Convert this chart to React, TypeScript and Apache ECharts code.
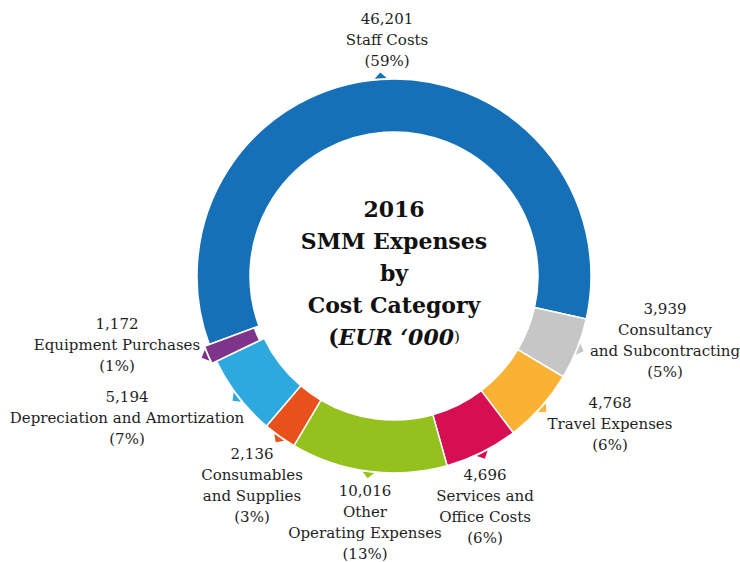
import React, { useEffect, useRef } from "react";
import * as echarts from "echarts";

const categories = [
  "Staff Costs",
  "Consultancy\nand Subcontracting",
  "Travel Expenses",
  "Services and\nOffice Costs",
  "Other\nOperating Expenses",
  "Consumables\nand Supplies",
  "Depreciation and Amortization",
  "Equipment Purchases",
];
const values = [46201, 3939, 4768, 4696, 10016, 2136, 5194, 1172];
const percentLabels = ["59%", "5%", "6%", "6%", "13%", "3%", "7%", "1%"];
const colors = ["#1570b7", "#c6c6c6", "#f9b234", "#d70f52", "#95c11f", "#e8501c", "#2ea9e0", "#7d348a"];
const explodedIndex = 7;

// label block centres (layout only)
const labelAnchors: [number, number][] = [
  [387, 40],
  [665, 340],
  [610, 424],
  [485, 506],
  [365, 522],
  [252, 485],
  [127, 418],
  [117, 345],
];

const fmt = (v: number) => v.toLocaleString("en-US");

const CX = 394;
const CY = 276;
const R_IN = 144;
const R_OUT = 197;
const START = 200.3; // echarts degrees, counter-clockwise from 3 o'clock
const OFFSET = 5;

export default function App() {
  const ref = useRef<HTMLDivElement>(null);
  useEffect(() => {
    document.body.style.margin = "0";
    const chart = echarts.init(ref.current!, null, { renderer: "svg" });
    const labelFont = "'DejaVu Serif', serif";

    const total = values.reduce((a, b) => a + b, 0);
    const midAngles: number[] = [];
    let acc = 0;
    values.forEach((v) => {
      const frac = (acc + v / 2) / total;
      midAngles.push(((START - frac * 360) * Math.PI) / 180);
      acc += v;
    });
    const ea = midAngles[explodedIndex];
    const ecx = CX + OFFSET * Math.cos(ea);
    const ecy = CY - OFFSET * Math.sin(ea);

    // small callout pointers at each slice's mid-angle
    const pointers = values.map((_, i) => {
      const a = midAngles[i];
      const cx = i === explodedIndex ? ecx : CX;
      const cy = i === explodedIndex ? ecy : CY;
      const ux = Math.cos(a);
      const uy = -Math.sin(a);
      const tx = -uy;
      const ty = ux;
      const rb = R_OUT + 1;
      const ra = R_OUT + 7;
      const hw = 6;
      return {
        type: "polygon",
        silent: true,
        shape: {
          points: [
            [cx + ux * rb + tx * hw, cy + uy * rb + ty * hw],
            [cx + ux * rb - tx * hw, cy + uy * rb - ty * hw],
            [cx + ux * ra, cy + uy * ra],
          ],
        },
        style: { fill: colors[i] },
      };
    });

    chart.setOption({
      animation: false,
      backgroundColor: "#ffffff",
      series: [
        {
          type: "pie",
          center: [CX, CY],
          radius: [R_IN, R_OUT],
          startAngle: START,
          clockwise: true,
          avoidLabelOverlap: false,
          emphasis: { disabled: true },
          label: {
            show: true,
            position: "outside",
            fontFamily: labelFont,
            fontSize: 15,
            lineHeight: 21,
            color: "#1e1e1e",
            align: "center",
            formatter: (p: any) =>
              `${fmt(p.value)}\n${p.name}\n(${percentLabels[p.dataIndex]})`,
          },
          labelLine: { show: false },
          labelLayout: (params: any) => {
            const a = labelAnchors[params.dataIndex];
            return { x: a[0], y: a[1], align: "center", verticalAlign: "middle" };
          },
          data: values.map((v, i) => ({
            value: v,
            name: categories[i],
            itemStyle:
              i === explodedIndex
                ? { color: "rgba(0,0,0,0)", borderWidth: 0 }
                : { color: colors[i], borderColor: "#ffffff", borderWidth: 1.5 },
          })),
        },
        {
          type: "pie",
          center: [ecx, ecy],
          radius: [R_IN, R_OUT],
          startAngle: START,
          clockwise: true,
          silent: true,
          emphasis: { disabled: true },
          label: { show: false },
          labelLine: { show: false },
          data: values.map((v, i) => ({
            value: v,
            name: categories[i],
            itemStyle:
              i === explodedIndex
                ? { color: colors[i], borderColor: "#ffffff", borderWidth: 1.5 }
                : { color: "rgba(0,0,0,0)", borderWidth: 0 },
          })),
        },
      ],
      graphic: [
        ...pointers,
        {
          type: "text",
          x: CX,
          y: 273,
          style: {
            text: "{b|2016}\n{b|SMM Expenses}\n{b|by}\n{b|Cost Category}\n{b|(}{bi|EUR ‘000}{r|)}",
            align: "center",
            verticalAlign: "middle",
            rich: {
              b: { fontFamily: labelFont, fontWeight: "bold", fontSize: 22, lineHeight: 32, fill: "#111111" },
              bi: { fontFamily: labelFont, fontWeight: "bold", fontStyle: "italic", fontSize: 22, lineHeight: 32, fill: "#111111" },
              r: { fontFamily: labelFont, fontSize: 15, lineHeight: 32, fill: "#111111" },
            },
          },
        },
      ],
    });
    return () => chart.dispose();
  }, []);
  return <div ref={ref} style={{ width: 740, height: 562 }} />;
}
